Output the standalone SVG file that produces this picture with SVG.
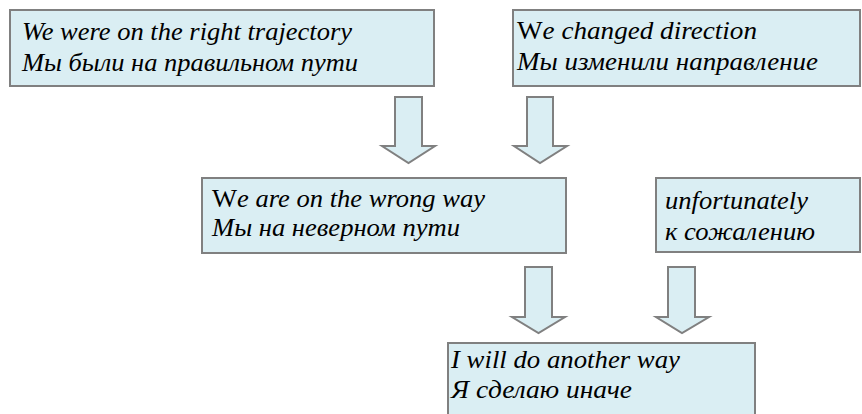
<svg xmlns="http://www.w3.org/2000/svg" width="862" height="414" viewBox="0 0 862 414">
<style>
.box{fill:#DAEEF3;stroke:#808080;stroke-width:2}
.arrow{fill:#DAEEF3;stroke:#808080;stroke-width:2;stroke-linejoin:miter}
.t{font-family:"Liberation Serif","Times New Roman",serif;font-size:25px;font-style:italic;fill:#000}
.up{font-style:normal}
</style>
<rect width="862" height="414" fill="#fff"/>
<g id="connectors">
<polygon class="arrow" points="395,97 422,97 422,146 435,146 408.5,163 382,146 395,146"/>
<polygon class="arrow" points="527,97 553,97 553,146 567,146 540,163 514,146 527,146"/>
<polygon class="arrow" points="525,267 552,267 552,317 565,317 538.5,333 512,317 525,317"/>
<polygon class="arrow" points="668,267 695,267 695,317 709,317 682,333 656,317 668,317"/>
</g>
<g id="node-trajectory">
<rect class="box" x="10" y="10" width="424" height="76"/>
<text class="t" x="22" y="40" textLength="330" lengthAdjust="spacingAndGlyphs">We were on the right trajectory</text>
<text class="t" x="22" y="71" textLength="336" lengthAdjust="spacingAndGlyphs">Мы были на правильном пути</text>
</g>
<g id="node-changed">
<rect class="box" x="513" y="10" width="347" height="76"/>
<text class="t" x="517" y="39" textLength="240" lengthAdjust="spacingAndGlyphs"><tspan class="up">W</tspan>e changed direction</text>
<text class="t" x="517" y="70" textLength="301" lengthAdjust="spacingAndGlyphs">Мы изменили направление</text>
</g>
<g id="node-wrong">
<rect class="box" x="202" y="178" width="364" height="75"/>
<text class="t" x="212" y="207" textLength="273" lengthAdjust="spacingAndGlyphs"><tspan class="up">W</tspan>e are on the wrong way</text>
<text class="t" x="212" y="236" textLength="248" lengthAdjust="spacingAndGlyphs">Мы на неверном пути</text>
</g>
<g id="node-unfortunately">
<rect class="box" x="656" y="178" width="204" height="74"/>
<text class="t" x="665" y="209" textLength="143" lengthAdjust="spacingAndGlyphs">unfortunately</text>
<text class="t" x="665" y="240" textLength="150" lengthAdjust="spacingAndGlyphs">к сожалению</text>
</g>
<g id="node-another">
<rect class="box" x="448" y="343" width="307" height="80"/>
<text class="t" x="451" y="368" textLength="229" lengthAdjust="spacingAndGlyphs">I will do another way</text>
<text class="t" x="451" y="398" textLength="181" lengthAdjust="spacingAndGlyphs">Я сделаю иначе</text>
</g>
</svg>
